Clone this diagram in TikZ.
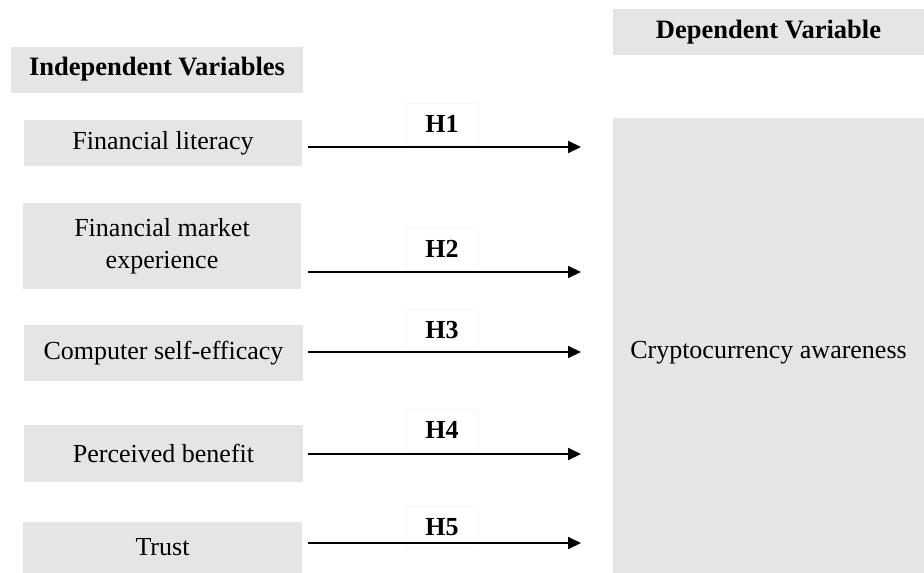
\documentclass[tikz,border=0pt]{standalone}
\usepackage{fontspec}
\setmainfont{Liberation Serif}
\usetikzlibrary{arrows.meta}

\begin{document}
\begin{tikzpicture}[x=1pt,y=-1pt]
% ------------------------------------------------ model colors
\definecolor{cv_gray}{RGB}{229,229,229}  %#E5E5E5
\definecolor{cv_edge}{RGB}{247,247,247}  %#F7F7F7

\tikzset{
  varbox/.style={fill=cv_gray,inner sep=0,align=center,font=\fontsize{26}{32}\selectfont},
  headbox/.style={varbox,font=\fontsize{26.5}{32}\selectfont\bfseries},
  hlabel/.style={draw=cv_edge,inner sep=0,minimum width=72,minimum height=42,font=\fontsize{26}{30}\selectfont\bfseries},
  hpath/.style={line width=2pt,-{Triangle[length=13pt,width=12pt]}}
}
\useasboundingbox (0,0) rectangle (924,573);

% ------------------------------------------------ independent side
\node[headbox,minimum width=292,minimum height=46] (indep) at (157,69.5) {Independent Variables};
\node[varbox,minimum width=278,minimum height=46] (lit)   at (163,143)   {Financial literacy};
\node[varbox,minimum width=278,minimum height=86] (mkt)   at (162,246)   {Financial market\\experience};
\node[varbox,minimum width=279,minimum height=56] (comp)  at (163.5,353) {Computer self-efficacy};
\node[varbox,minimum width=279,minimum height=57] (ben)   at (163.5,453.5) {Perceived benefit};
\node[varbox,minimum width=279,minimum height=51] (trust) at (162.5,547.5) {Trust};

% ------------------------------------------------ dependent side
\node[headbox,minimum width=311,minimum height=46] (dep) at (768.5,32) {Dependent Variable};
\node[varbox,minimum width=311,minimum height=455] (aware) at (768.5,345.5) {\raisebox{-13pt}[0pt][0pt]{Cryptocurrency awareness}};

% ------------------------------------------------ hypotheses
\foreach \src/\y/\ly/\h in {lit/147/124/H1, mkt/272/249/H2, comp/352/330/H3, ben/454/430/H4, trust/543/527/H5} {
  \coordinate (\h-s) at (308,\y);
  \coordinate (\h-e) at (581,\y);
  \node[hlabel] (\h) at (442,\ly) {\h};
  \draw[hpath] (\h-s) -- (\h-e);
}

\end{tikzpicture}
\end{document}
